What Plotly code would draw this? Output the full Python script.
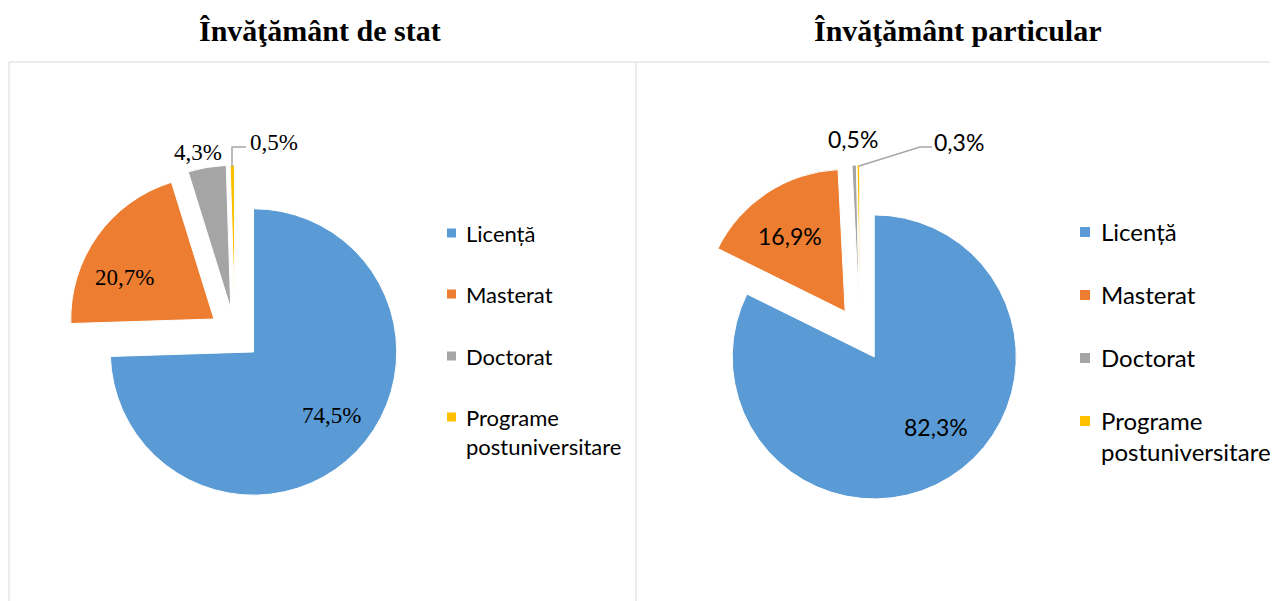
import plotly.graph_objects as go

# date
categorii = ['Licență', 'Masterat', 'Doctorat', 'Programe postuniversitare']
etichete_legenda = ['Licență', 'Masterat', 'Doctorat', 'Programe<br>postuniversitare']
stat = [74.5, 20.7, 4.3, 0.5]
particular = [82.3, 16.9, 0.5, 0.3]
culori = ['#5B9BD5', '#ED7D31', '#A5A5A5', '#FFC000']

titlu_stat = 'Învăţământ de stat'
titlu_particular = 'Învăţământ particular'

W, H = 1278, 601
OFF = 8  # marginea body din pagina html


def fmt(v):
    return f'{v:.1f}%'.replace('.', ',')


def px_x(x):
    return (x - OFF) / W


def px_y(y):
    return 1 - (y - OFF) / H


fig = go.Figure()

# cele doua diagrame: (valori, centru x, pull)
for valori, cx, pull in [(stat, 235, 0.18), (particular, 860, 0.19)]:
    fig.add_trace(go.Pie(
        labels=categorii,
        values=valori,
        textinfo='none',
        marker=dict(colors=culori, line=dict(color='white', width=1)),
        sort=False,
        direction='clockwise',
        rotation=0,
        pull=[pull] * len(valori),
        domain=dict(x=[px_x(cx - 169), px_x(cx + 169)], y=[px_y(334 + 169), px_y(334 - 169)]),
        showlegend=False,
        hoverinfo='label+percent',
    ))

# etichete de date (pozitii ca in Excel, best fit)
poz_stat = [(331, 415, None), (124, 277, None), (198, 152, None),
            (274, 142, [(232, 167), (232, 147), (246, 147)])]
poz_particular = [(936, 427, None), (790, 236, None), (853, 139, None),
                  (959, 142, [(859, 166), (920, 147), (932, 147)])]

for valori, pozitii, fam in [(stat, poz_stat, 'Liberation Serif'), (particular, poz_particular, 'Lato')]:
    for v, (xc, yc, linie_leg) in zip(valori, pozitii):
        fig.add_annotation(text=fmt(v), x=px_x(xc), y=px_y(yc), xref='paper', yref='paper',
                           xanchor='center', yanchor='middle', showarrow=False,
                           font=dict(family=fam, size=23, color='black'))
        if linie_leg:
            d = 'M ' + ' L '.join(f'{px_x(a)} {px_y(b)}' for a, b in linie_leg)
            fig.add_shape(type='path', xref='paper', yref='paper', path=d,
                          line=dict(color='#A6A6A6', width=1.5))

# titluri
for t, xc in [(titlu_stat, 320), (titlu_particular, 958)]:
    fig.add_annotation(text=f'<b>{t}</b>', x=px_x(xc), y=px_y(31), xref='paper', yref='paper',
                       xanchor='center', yanchor='middle',
                       showarrow=False, font=dict(family='Liberation Serif', size=30, color='black'))

# chenare
linie = dict(color='#D9D9D9', width=1)
fig.add_shape(type='line', xref='paper', yref='paper', x0=px_x(9), x1=1, y0=px_y(62), y1=px_y(62), line=linie)
fig.add_shape(type='line', xref='paper', yref='paper', x0=px_x(9), x1=px_x(9), y0=px_y(62), y1=0, line=linie)
fig.add_shape(type='line', xref='paper', yref='paper', x0=px_x(636), x1=px_x(636), y0=px_y(62), y1=0, line=linie)

# legende
legende = [
    dict(xm=447, sq=9, xt=464, ys=[233, 294, 356, 417], size=22),
    dict(xm=1080, sq=10, xt=1099, ys=[232, 295, 358, 421], size=24),
]
for lg in legende:
    for lab, c, y in zip(etichete_legenda, culori, lg['ys']):
        h = lg['sq'] / 2
        fig.add_shape(type='rect', xref='paper', yref='paper',
                      x0=px_x(lg['xm']), x1=px_x(lg['xm'] + lg['sq']),
                      y0=px_y(y + h), y1=px_y(y - h),
                      fillcolor=c, line=dict(width=0))
        fig.add_annotation(text=lab, x=px_x(lg['xt']), y=px_y(y - 0.65 * lg['size'] - 1),
                           xref='paper', yref='paper', xanchor='left', yanchor='top',
                           align='left', showarrow=False,
                           font=dict(family='Lato', size=lg['size'], color='black'))

fig.update_layout(
    width=W, height=H,
    margin=dict(l=0, r=0, t=0, b=0),
    paper_bgcolor='white',
    plot_bgcolor='white',
)

fig.write_html('out.html')
